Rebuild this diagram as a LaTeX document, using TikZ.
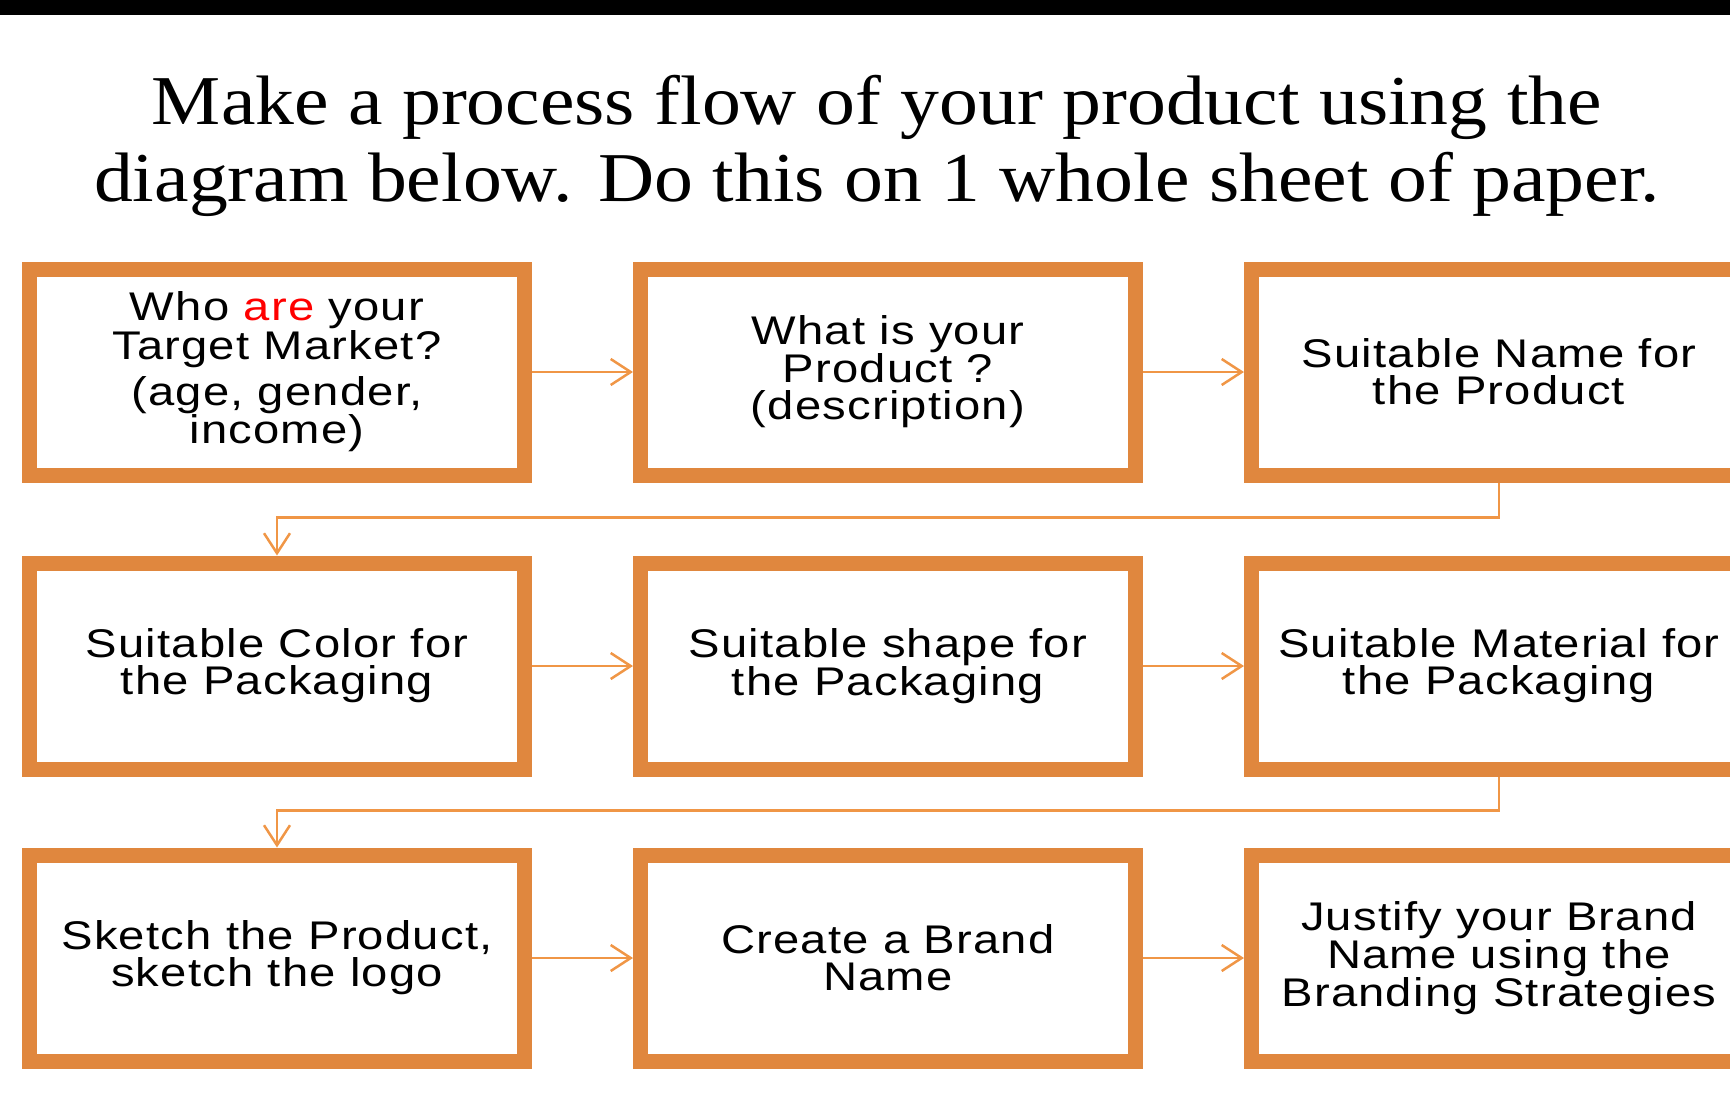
\documentclass[tikz,border=0pt]{standalone}
\usepackage{fontspec}
\setmainfont{Liberation Serif}[FakeStretch=1.11]
\newfontfamily\boxfont{Liberation Sans}[FakeStretch=1.18,LetterSpace=3]
\usetikzlibrary{arrows.meta,shadows}
\definecolor{boxorange}{RGB}{224,135,62}
\definecolor{linkorange}{RGB}{240,150,70}
\tikzset{
  step box/.style={draw=boxorange,line width=15pt,fill=white,minimum width=495pt,minimum height=206pt,
    align=center,font=\boxfont\fontsize{40}{37}\selectfont,
    drop shadow={shadow xshift=3pt,shadow yshift=-4pt,opacity=0.35}},
  link/.style={draw=linkorange,line width=2.5pt,-{Straight Barb[length=20pt,width=26pt,line width=2.5pt]}}
}
\begin{document}
\begin{tikzpicture}[x=1pt,y=1pt,yscale=-1]
\useasboundingbox (0,0) rectangle (1730,1095);
\fill[black] (0,0) rectangle (1730,15);

% title
\node (title) at (877,146) [align=center,font=\fontsize{70}{77}\selectfont] {Make a process flow of your product using the\\diagram below. Do this on 1 whole sheet of paper.};

% boxes
\node[step box] (target)   at (277,372)  {Who \textcolor{red}{are} your\\Target Market?\\[8pt](age, gender,\\income)};
\node[step box] (product)  at (888,372)  {What is your\\Product ?\\(description)};
\node[step box] (name)     at (1499,372) {Suitable Name for\\the Product};
\node[step box] (color)    at (277,666)  {Suitable Color for\\the Packaging};
\node[step box] (shape)    at (888,666)  {Suitable shape for\\the Packaging};
\node[step box] (material) at (1499,666) {Suitable Material for\\the Packaging};
\node[step box] (sketch)   at (277,958)  {Sketch the Product,\\sketch the logo};
\node[step box] (brand)    at (888,958)  {Create a Brand\\Name};
\node[step box] (justify)  at (1499,958) {Justify your Brand\\Name using the\\Branding Strategies};

% links
\draw[link] (target) -- (product);
\draw[link] (product) -- (name);
\draw[link] (color) -- (shape);
\draw[link] (shape) -- (material);
\draw[link] (sketch) -- (brand);
\draw[link] (brand) -- (justify);
\draw[link] (name.south) -- ++(0,35) -| (color.north);
\draw[link] (material.south) -- ++(0,34) -| (sketch.north);
\end{tikzpicture}
\end{document}
